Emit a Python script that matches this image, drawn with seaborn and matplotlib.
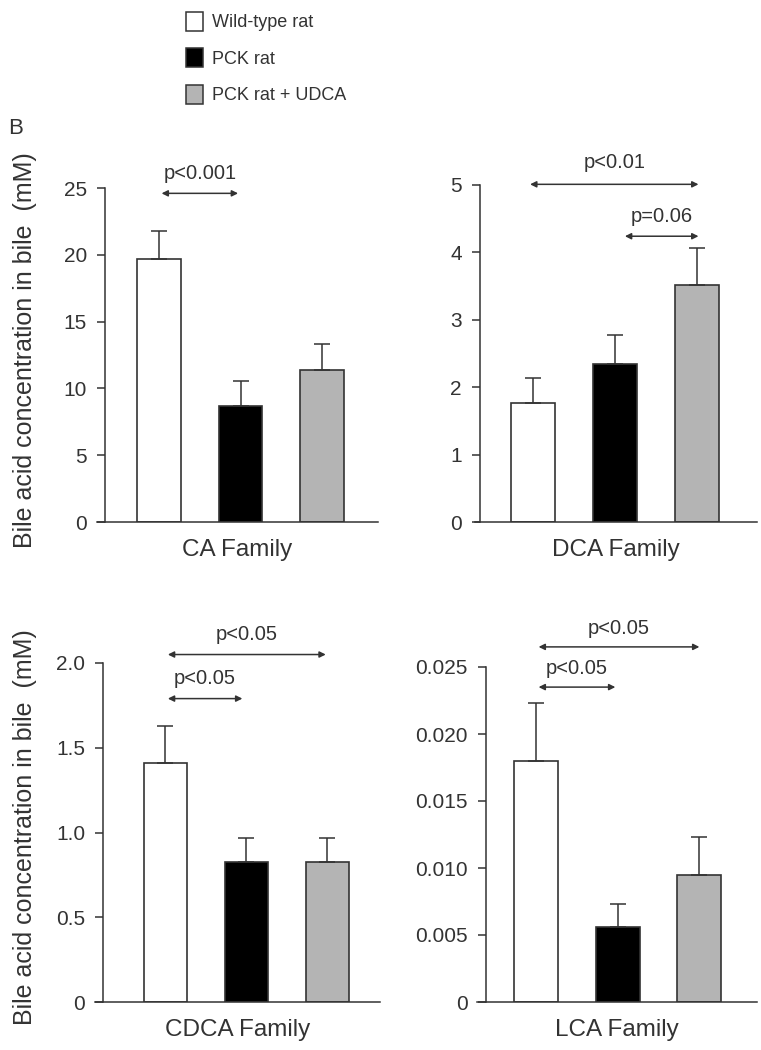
import numpy as np
import pandas as pd
import seaborn as sns
import matplotlib.pyplot as plt
from matplotlib.patches import Patch

groups = ['Wild-type rat', 'PCK rat', 'PCK rat + UDCA']
colors = ['#ffffff', '#000000', '#b4b4b4']

# mean and upper error bar end
ca_mean = [19.7, 8.7, 11.4]
ca_top = [21.8, 10.55, 13.35]
dca_mean = [1.76, 2.34, 3.51]
dca_top = [2.14, 2.78, 4.07]
cdca_mean = [1.41, 0.824, 0.828]
cdca_top = [1.63, 0.97, 0.966]
lca_mean = [0.0180, 0.0056, 0.0095]
lca_top = [0.0223, 0.0073, 0.0123]

ca_ticks = [0, 5, 10, 15, 20, 25]
ca_labels = ['0', '5', '10', '15', '20', '25']
dca_ticks = [0, 1, 2, 3, 4, 5]
dca_labels = ['0', '1', '2', '3', '4', '5']
cdca_ticks = [0, 0.5, 1.0, 1.5, 2.0]
cdca_labels = ['0', '0.5', '1.0', '1.5', '2.0']
lca_ticks = [0, 0.005, 0.010, 0.015, 0.020, 0.025]
lca_labels = ['0', '0.005', '0.010', '0.015', '0.020', '0.025']

# comparisons: (x from, x to, y arrow, y text, label)
ca_cmp = [(0.03, 0.97, 24.6, 26.1, 'p<0.001')]
dca_cmp = [(-0.04, 2.02, 5.01, 5.33, 'p<0.01'),
           (1.12, 2.02, 4.24, 4.54, 'p=0.06')]
cdca_cmp = [(0.03, 1.98, 2.05, 2.17, 'p<0.05'),
            (0.03, 0.95, 1.79, 1.91, 'p<0.05')]
lca_cmp = [(0.03, 2.0, 0.0265, 0.0279, 'p<0.05'),
           (0.03, 0.97, 0.0235, 0.0249, 'p<0.05')]

sns.set_theme(style='ticks')
plt.rcParams['font.family'] = ['Liberation Sans', 'DejaVu Sans']
ink = '#333333'
plt.rcParams.update({
    'text.color': ink, 'axes.labelcolor': ink, 'xtick.color': ink,
    'ytick.color': ink, 'axes.edgecolor': ink, 'axes.linewidth': 1.1,
    'ytick.major.size': 6, 'ytick.major.width': 1.1, 'ytick.major.pad': 7,
    'ytick.labelsize': 15,
})

W, H = 761, 1050
fig = plt.figure(figsize=(W / 100, H / 100), dpi=100)


def panel(px_left, px_right, px_top, px_bot, xlim, spine_x, mean, top,
          ylim, ticks, labels, cmp, xlabel, ylabel=None):
    ax = fig.add_axes([px_left / W, 1 - px_bot / H,
                       (px_right - px_left) / W, (px_bot - px_top) / H])
    df = pd.DataFrame({'group': groups, 'value': mean})
    sns.barplot(data=df, x='group', y='value', hue='group', palette=colors,
                order=groups, hue_order=groups, width=0.54, edgecolor=ink,
                linewidth=1.2, legend=False, ax=ax)
    err = np.array(top) - np.array(mean)
    ax.errorbar(range(3), mean, yerr=[np.zeros(3), err], fmt='none',
                ecolor=ink, elinewidth=1.1, capsize=6, capthick=1.1, zorder=1)
    ax.set_xlim(*xlim)
    ax.set_ylim(*ylim)
    ax.set_yticks(ticks)
    ax.set_yticklabels(labels)
    ax.set_xticks([])
    ax.spines['left'].set_position(('data', spine_x))
    sns.despine(ax=ax)
    ax.set_xlabel(xlabel, fontsize=17.5, labelpad=12)
    if ylabel:
        ax.set_ylabel(ylabel, fontsize=18)
        ax.yaxis.set_label_coords((37 - px_left) / (px_right - px_left), 0.515)
    else:
        ax.set_ylabel('')
    for x0, x1, ya, yt, lab in cmp:
        ax.annotate('', xy=(x1, ya), xytext=(x0, ya), annotation_clip=False,
                    arrowprops=dict(arrowstyle='<|-|>', color=ink, lw=1.1,
                                    mutation_scale=9, shrinkA=0, shrinkB=0))
        ax.text((x0 + x1) / 2, yt, lab, ha='center', va='center',
                fontsize=14.5, clip_on=False)
    return ax


ylab = 'Bile acid concentration in bile  (mM)'
panel(97, 378, 188, 522, (-0.764, 2.69), -0.665, ca_mean, ca_top, (0, 25),
      ca_ticks, ca_labels, ca_cmp, 'CA Family', ylab)
panel(475, 757, 185, 522, (-0.714, 2.736), -0.653, dca_mean, dca_top, (0, 5),
      dca_ticks, dca_labels, dca_cmp, 'DCA Family')
panel(95, 380, 663, 1002, (-0.87, 2.65), -0.77, cdca_mean, cdca_top, (0, 2.0),
      cdca_ticks, cdca_labels, cdca_cmp, 'CDCA Family', ylab)
panel(477, 757, 667, 1002, (-0.725, 2.706), -0.615, lca_mean, lca_top,
      (0, 0.025), lca_ticks, lca_labels, lca_cmp, 'LCA Family')

handles = [Patch(facecolor=c, edgecolor=ink, linewidth=1.1) for c in colors]
fig.legend(handles, groups, loc='upper left', bbox_to_anchor=(186 / W, 1 - 12 / H),
           frameon=False, borderpad=0, borderaxespad=0,
           handlelength=0.95, handleheight=1.2, handletextpad=0.5,
           labelspacing=0.95, prop={'size': 13})
fig.text(8 / W, 1 - 128 / H, 'B', fontsize=16, va='center', ha='left')

fig.savefig('out.png', dpi=100)
